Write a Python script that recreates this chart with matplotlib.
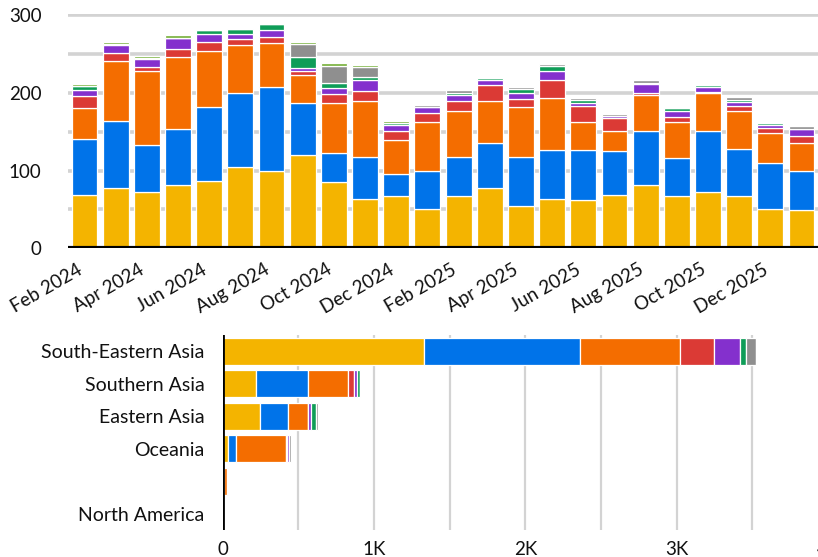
import matplotlib.pyplot as plt
import matplotlib.transforms as mtransforms
import numpy as np

plt.rcParams['font.family'] = ['Lato', 'DejaVu Sans']

months = ['Feb 2024', 'Mar 2024', 'Apr 2024', 'May 2024', 'Jun 2024', 'Jul 2024',
          'Aug 2024', 'Sep 2024', 'Oct 2024', 'Nov 2024', 'Dec 2024', 'Jan 2025',
          'Feb 2025', 'Mar 2025', 'Apr 2025', 'May 2025', 'Jun 2025', 'Jul 2025',
          'Aug 2025', 'Sep 2025', 'Oct 2025', 'Nov 2025', 'Dec 2025', 'Jan 2026']

# monthly counts per series, bottom to top of each stack
s_yellow = [69, 77, 72, 82, 87, 105, 100, 120, 85, 64, 67, 51, 67, 77, 54, 64, 62, 69, 82, 67, 72, 67, 51, 49]
s_blue   = [71, 87, 61, 72, 95, 95, 108, 67, 38, 54, 28, 49, 51, 59, 64, 62, 64, 56, 69, 49, 79, 61, 59, 51]
s_orange = [41, 77, 95, 92, 72, 62, 56, 36, 64, 72, 44, 62, 59, 54, 64, 67, 36, 26, 46, 46, 49, 49, 38, 36]
s_red    = [15, 10, 5, 10, 11, 7, 8, 5, 12, 12, 12, 12, 12, 20, 10, 23, 21, 17, 3, 7, 1, 6, 7, 9]
s_purple = [8, 10, 10, 15, 11, 7, 9, 4, 7, 15, 8, 8, 8, 6, 8, 12, 4, 2, 11, 7, 6, 5, 3, 8]
s_green  = [5, 2, 2, 0, 5, 6, 7, 14, 6, 3, 2, 0, 3, 3, 5, 6, 4, 0, 2, 5, 3, 3, 3, 1]
s_gray   = [0, 0, 0, 0, 0, 0, 0, 17, 23, 13, 0, 2, 3, 0, 3, 3, 2, 3, 3, 0, 0, 3, 0, 3]
s_lime   = [2, 3, 3, 3, 0, 0, 0, 3, 3, 3, 3, 0, 0, 0, 0, 0, 0, 0, 0, 0, 0, 0, 0, 0]

regions = ['South-Eastern Asia', 'Southern Asia', 'Eastern Asia', 'Oceania', '', 'North America']
r_yellow = [1330, 220, 246, 35, 3, 0]
r_blue   = [1032, 344, 186, 53, 3, 0]
r_orange = [660, 264, 132, 330, 20, 1]
r_red    = [225, 39, 0, 9, 8, 0]
r_purple = [171, 18, 17, 9, 5, 0]
r_green  = [40, 22, 36, 0, 4, 0]
r_gray   = [66, 0, 13, 13, 0, 0]
r_lime   = [0, 0, 0, 0, 0, 0]

colors = ['#f4b400', '#0073e9', '#f46d00', '#db3a35', '#8430cd', '#0f9d58', '#8f8f8f', '#7cb342']
grid_c = '#d3d3d3'

fig = plt.figure(figsize=(8.18, 5.57), dpi=100)
W, H = 818, 557

# monthly stacked columns
ax = fig.add_axes([68 / W, 1 - 248.3 / H, 750 / W, (248.3 - 14.3) / H])
x = np.arange(len(months))
bottom = np.zeros(len(months))
for vals, c in zip([s_yellow, s_blue, s_orange, s_red, s_purple, s_green, s_gray, s_lime], colors):
    vals = np.array(vals, dtype=float)
    ax.bar(x, vals, 0.83, bottom=bottom, color=c, edgecolor='white', linewidth=0.9, zorder=3)
    bottom += vals
ax.set_xlim(-0.53, 23.53)
ax.set_ylim(0, 301)
for g in range(50, 301, 50):
    ax.axhline(g, color=grid_c, linewidth=2.6, zorder=0)
ax.axhline(0, color='black', linewidth=3, zorder=4)
for s in ax.spines.values():
    s.set_visible(False)
ax.set_yticks([0, 100, 200, 300])
ax.tick_params(axis='y', length=0, pad=19, labelsize=13.5, colors='#111111')
ax.set_xticks(x[::2])
ax.set_xticklabels(months[::2], rotation=30, ha='right', rotation_mode='anchor')
ax.tick_params(axis='x', length=0, pad=9, labelsize=13.5, colors='#111111')
shift = mtransforms.ScaledTranslation(-8 / 100, 0, fig.dpi_scale_trans)
for lbl in ax.get_xticklabels():
    lbl.set_transform(lbl.get_transform() + shift)

# totals by region, horizontal stacked bars
ax2 = fig.add_axes([222.7 / W, 1 - 530 / H, (828 - 222.7) / W, 195 / H])
y = np.arange(len(regions))
left = np.zeros(len(regions))
for vals, c in zip([r_yellow, r_blue, r_orange, r_red, r_purple, r_green, r_gray, r_lime], colors):
    vals = np.array(vals, dtype=float)
    ax2.barh(y, vals, 0.83, left=left, color=c, edgecolor='white', linewidth=0.9, zorder=3)
    left += vals
ax2.set_ylim(5.5, -0.5)
ax2.set_xlim(0, 4000)
for g in range(500, 4000, 500):
    ax2.axvline(g, color=grid_c, linewidth=1.6, zorder=0)
ax2.axvline(0, color='black', linewidth=2, zorder=4)
for s in ax2.spines.values():
    s.set_visible(False)
ax2.set_xticks([0, 1000, 2000, 3000, 4000])
ax2.set_xticklabels(['0', '1K', '2K', '3K', '4K'])
ax2.set_yticks(y)
ax2.set_yticklabels(regions)
ax2.tick_params(axis='y', length=0, pad=13, labelsize=14, colors='#111111')
ax2.tick_params(axis='x', length=0, pad=8, labelsize=13.5, colors='#111111')

fig.savefig('out.png', dpi=100)
